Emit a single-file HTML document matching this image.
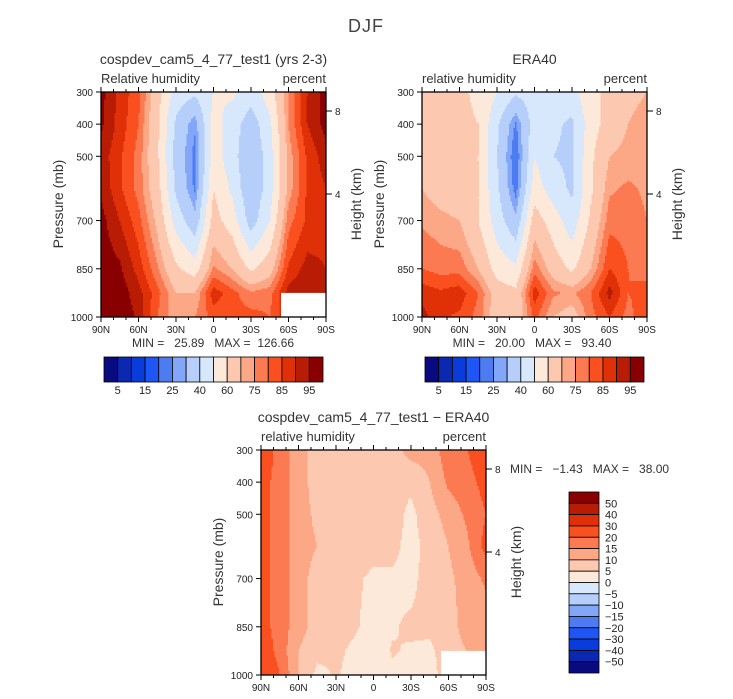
<!DOCTYPE html>
<html><head><meta charset="utf-8"><style>
body{margin:0;background:#fff;width:733px;height:699px;overflow:hidden}
svg{display:block;font-family:"Liberation Sans",sans-serif;fill:#222}
.pre{white-space:pre}
</style></head><body>
<svg id="fig" width="733" height="699">
<text x="366" y="32" text-anchor="middle" font-size="18" letter-spacing="1" fill="#444">DJF</text>
</svg>
<script>
const lats=[90,75,60,45,30,15,0,-15,-30,-45,-60,-75,-90];
const levels=[300,400,500,600,700,850,925,1000];
const rhLevels=[5,10,15,20,25,30,40,50,60,70,75,80,85,90,95];
const diffLevels=[-50,-40,-30,-20,-15,-10,-5,0,5,10,15,20,30,40,50];
const colors=["#0a0a80","#0a28b0","#0a3cdc","#1e55f5","#4c7cf0","#82a6f8","#b6cefa","#d8e8fc","#fde9da","#fdc8b0","#fca886","#fb7a52","#fa5020","#e03008","#b81c04","#880000"];
const modelRH=[
[97,88,82,64,46,42,50,52,45,55,75,90,97],
[96,88,80,62,38,26,54,45,34,48,75,90,97],
[93,86,78,62,36,23,55,44,31,45,72,86,93],
[94,86,78,64,38,24,60,48,31,45,72,86,90],
[97,90,82,68,46,33,64,55,35,50,78,86,88],
[98,96,88,76,62,55,76,70,58,66,86,92,90],
[99,98,92,82,70,70,88,82,76,78,92,95,90],
[99,99,94,80,72,75,82,82,82,80,90,92,90]];
const eraRH=[
[68,64,62,58,50,42,45,50,46,58,62,66,70],
[68,64,62,60,42,24,45,42,38,55,65,70,75],
[68,64,62,60,40,20,50,40,38,58,70,72,72],
[70,66,64,60,42,22,55,45,38,58,74,76,74],
[74,72,70,60,45,32,65,55,44,62,78,78,75],
[80,78,78,70,56,52,78,66,58,70,85,80,78],
[88,86,88,80,65,62,88,76,74,80,92,80,82],
[92,86,84,78,65,62,82,70,66,78,85,78,85]];
const diffRH=[
[24,18,12,8,8,6.2,6.4,8,12,12,18,20,24],
[22,18,12,8,6.3,7,5.7,6.4,6,10,16,18,22],
[22,18,12,9,7,8,6.3,7,3.8,8,12,16,20],
[22,18,12,10,7,7,6.2,6.1,3.6,6.3,10,14,22],
[22,18,12,8,6.4,5.6,4.3,4.4,3.8,7,9,12,16],
[22,18,12,8,6.2,5.4,3.8,4.6,5.7,6.2,8,12,12],
[24,18,10,6.3,5.6,4.4,2.8,5.3,4.6,3.9,8,10,10],
[28,20,10,3.8,5.4,3.7,0,4.4,3.6,2.8,8,10,10]];
const latLabels=["90N","60N","30N","0","30S","60S","90S"];
const pLabels=[300,400,500,700,850,1000];
const rhCbLabels=[5,15,25,40,60,75,85,95];

const NS="http://www.w3.org/2000/svg";
const fig=document.getElementById('fig');
function mk(tag,attrs,parent,text){const e=document.createElementNS(NS,tag);for(const k in attrs)e.setAttribute(k,attrs[k]);if(text!==undefined)e.textContent=text;(parent||fig).appendChild(e);return e;}
function sample(grid,lat,p){
  let i=0;while(i<lats.length-2&&lat<lats[i+1])i++;
  let j=0;while(j<levels.length-2&&p>levels[j+1])j++;
  const tx=(lats[i]-lat)/(lats[i]-lats[i+1]);const ty=(p-levels[j])/(levels[j+1]-levels[j]);
  const a=grid[j][i],b=grid[j][i+1],c=grid[j+1][i],d=grid[j+1][i+1];
  return (a*(1-tx)+b*tx)*(1-ty)+(c*(1-tx)+d*tx)*ty;
}
function colorIdx(v,lv){let k=0;while(k<lv.length&&v>=lv[k])k++;return k;}

function panel(o){
  const X0=o.x,Y0=o.y,W=225,H=225;
  const xs=lat=>X0+(90-lat)/180*W;
  const ys=p=>Y0+(p-300)/700*H;
  const g=mk('g',{},fig);
  
  
  const step=1.5;
  for(let py=0;py<H;py+=step){
    const p=300+(py+step/2)/H*700;
    let runStart=0,runC=-1;
    for(let px=0;px<=W+0.01;px+=step){
      let c=-2;
      if(px<W){const lat=90-(px+step/2)/W*180;c=colorIdx(sample(o.data,lat,p),o.lv);}
      if(c!==runC){
        if(runC>=0){const r=mk('rect',{x:X0+runStart,y:Y0+py,width:Math.min(px,W)-runStart+0.4,height:step+0.4,fill:colors[runC]},g);
          
          }
        runStart=px;runC=c;}
    }
  }
  if(o.mask){const m=mk('rect',{x:xs(-54),y:ys(925),width:xs(-90)-xs(-54),height:ys(1000)-ys(925),fill:'#fff'},fig);
    }
  const fr=mk('rect',{x:X0,y:Y0,width:W,height:H,fill:'none',stroke:'#000','stroke-width':1.3},fig);
  
  for(let lat=90;lat>=-90;lat-=10){const x=xs(lat);const maj=lat%30===0;
    mk('line',{x1:x,y1:Y0,x2:x,y2:Y0-(maj?5:3),stroke:'#000'},fig);
    mk('line',{x1:x,y1:Y0+H,x2:x,y2:Y0+H+(maj?5:3),stroke:'#000'},fig);}
  latLabels.forEach((l,k)=>{const t=mk('text',{x:X0+k*W/6,y:Y0+H+16,'text-anchor':'middle','font-size':10},fig,l);
    });
  pLabels.forEach(p=>{mk('line',{x1:X0,y1:ys(p),x2:X0-5,y2:ys(p),stroke:'#000'},fig);
    const t=mk('text',{x:X0-8,y:ys(p)+4,'text-anchor':'end','font-size':10},fig,p);
    });
  [[8,Y0+19],[4,Y0+102]].forEach(h=>{mk('line',{x1:X0+W,y1:h[1],x2:X0+W+6,y2:h[1],stroke:'#000'},fig);
    const t=mk('text',{x:X0+W+9,y:h[1]+4,'font-size':10},fig,h[0]);
    });
  let t=mk('text',{x:X0-38,y:Y0+112,'text-anchor':'middle','font-size':14,transform:`rotate(-90 ${X0-38} ${Y0+112})`,fill:'#333'},fig,'Pressure (mb)');
  
  t=mk('text',{x:X0+W+35,y:Y0+112,'text-anchor':'middle','font-size':14,transform:`rotate(-90 ${X0+W+35} ${Y0+112})`,fill:'#333'},fig,'Height (km)');
  
  t=mk('text',{x:X0+W/2,y:Y0-28,'text-anchor':'middle','font-size':14,fill:'#333'},fig,o.title);
  
  t=mk('text',{x:X0,y:Y0-9,'font-size':13,fill:'#333'},fig,o.sub);
  
  t=mk('text',{x:X0+W,y:Y0-9,'text-anchor':'end','font-size':13,fill:'#333'},fig,'percent');
  
}
function hbar(x0,y0){
  const w=219/16;const g=mk('g',{},fig);
  
  colors.forEach((c,k)=>{const r=mk('rect',{x:x0+k*w,y:y0,width:w,height:25,fill:c,stroke:'#000','stroke-width':0.8},g);
    });
  rhCbLabels.forEach((l,k)=>{const t=mk('text',{x:x0+(2*k+1)*w,y:y0+37,'text-anchor':'middle','font-size':11},g,l);
    });
}
function minmax(x,y,txt,anchor){const t=mk('text',{x:x,y:y,'text-anchor':anchor||'middle','font-size':12,'class':'pre',fill:'#333'},fig,txt);
  }

panel({name:'model',x:101,y:92,data:modelRH,lv:rhLevels,mask:true,title:'cospdev_cam5_4_77_test1 (yrs 2-3)',sub:'Relative humidity'});
minmax(213,347,'MIN =   25.89   MAX =  126.66');
hbar(104,357);
panel({name:'era40',x:422,y:92,data:eraRH,lv:rhLevels,mask:false,title:'ERA40',sub:'relative humidity'});
minmax(532,347,'MIN =   20.00   MAX =   93.40');
hbar(425,357);
panel({name:'difference',x:261,y:450,data:diffRH,lv:diffLevels,mask:true,title:'cospdev_cam5_4_77_test1 \u2212 ERA40',sub:'relative humidity'});
minmax(510,473,'MIN =   \u22121.43   MAX =   38.00','start');
(function(){const x0=569,y0=492,h=181/16;const g=mk('g',{},fig);
  
  colors.slice().reverse().forEach((c,k)=>{const r=mk('rect',{x:x0,y:y0+k*h,width:30,height:h,fill:c,stroke:'#000','stroke-width':0.8},g);
    });
  diffLevels.slice().reverse().forEach((l,k)=>{const t=mk('text',{x:605,y:y0+(k+1)*h+4,'font-size':11},g,String(l).replace('-','\u2212'));
    });
})();
</script>
</body></html>
